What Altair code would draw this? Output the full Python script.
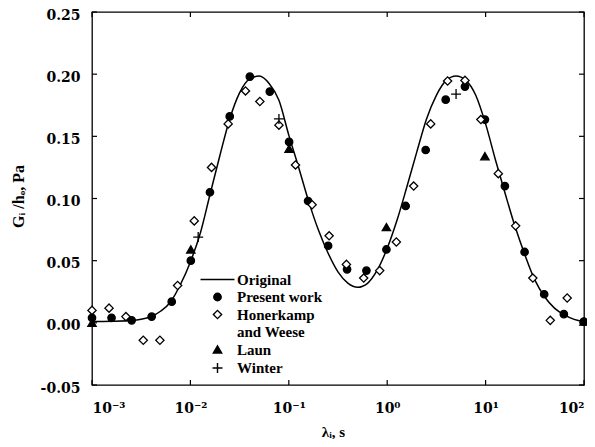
import altair as alt
import pandas as pd

# ---- data ----
present_lam = [0.001, 0.00158, 0.00253, 0.00404, 0.00646, 0.0101, 0.0158, 0.0251, 0.0402, 0.0641,
               0.1007, 0.157, 0.251, 0.391, 0.615, 0.982, 1.54, 2.46, 3.93, 6.17,
               9.84, 15.7, 24.9, 39.4, 62.4, 99.5]
present_g = [0.004, 0.004, 0.002, 0.005, 0.017, 0.050, 0.105, 0.166, 0.198, 0.186,
             0.1455, 0.098, 0.062, 0.043, 0.042, 0.059, 0.094, 0.139, 0.1795, 0.190,
             0.1635, 0.110, 0.057, 0.023, 0.007, 0.001]

honer_lam = [0.001, 0.00149, 0.00221, 0.00332, 0.0049, 0.00741, 0.01094, 0.0164, 0.0242, 0.0363,
             0.0508, 0.0794, 0.117, 0.1726, 0.257, 0.385, 0.577, 0.839, 1.239, 1.858,
             2.767, 4.11, 6.17, 8.95, 13.46, 20.18, 30.2, 45.4, 67.5]
honer_g = [0.010, 0.0118, 0.005, -0.014, -0.014, 0.030, 0.082, 0.125, 0.160, 0.1865,
           0.178, 0.159, 0.127, 0.095, 0.070, 0.047, 0.036, 0.042, 0.065, 0.110,
           0.160, 0.1945, 0.195, 0.1635, 0.120, 0.078, 0.036, 0.002, 0.020]

laun_lam = [0.001, 0.0101, 0.1007, 0.982, 9.84, 100.0]
laun_g = [0.0, 0.059, 0.140, 0.077, 0.134, 0.001]

winter_lam = [0.0120, 0.0794, 5.01]
winter_g = [0.069, 0.164, 0.184]

curve_lam = [0.001, 0.00158, 0.00251, 0.00316, 0.00398, 0.00501, 0.00631, 0.00794, 0.01, 0.0126,
             0.0158, 0.02, 0.0251, 0.0316, 0.0398, 0.0501, 0.0631, 0.0794, 0.1, 0.126,
             0.158, 0.2, 0.251, 0.316, 0.398, 0.501, 0.631, 0.794, 1.0, 1.26,
             1.58, 2.0, 2.51, 3.16, 3.98, 5.01, 6.31, 7.94, 10.0, 12.6,
             15.8, 20.0, 25.1, 31.6, 39.8, 50.1, 63.1, 79.4, 100.0]
curve_g = [0.001, 0.0012, 0.0018, 0.0028, 0.0050, 0.0095, 0.017, 0.031, 0.049, 0.072,
           0.103, 0.135, 0.164, 0.185, 0.196, 0.1985, 0.1925, 0.179, 0.151, 0.125,
           0.0985, 0.0746, 0.056, 0.041, 0.032, 0.0286, 0.0318, 0.0425, 0.060, 0.0827,
           0.109, 0.1375, 0.164, 0.183, 0.195, 0.1985, 0.195, 0.183, 0.160, 0.131,
           0.104, 0.077, 0.0546, 0.0345, 0.021, 0.0118, 0.0064, 0.0028, 0.001]

# legend entries; "Honerkamp and Weese" is shown on two legend lines
series_names = ["Original", "Present work", "Honerkamp and Weese", "(and Weese)", "Laun", "Winter"]
x_ticks = [0.001, 0.01, 0.1, 1, 10, 100]
y_ticks = [-0.05, 0.0, 0.05, 0.10, 0.15, 0.20, 0.25]

W, H = 492, 373

points = pd.concat([
    pd.DataFrame({"lam": present_lam, "g": present_g, "series": "Present work"}),
    pd.DataFrame({"lam": honer_lam, "g": honer_g, "series": "Honerkamp and Weese"}),
    pd.DataFrame({"lam": laun_lam, "g": laun_g, "series": "Laun"}),
    pd.DataFrame({"lam": winter_lam, "g": winter_g, "series": "Winter"}),
])
curve = pd.DataFrame({"lam": curve_lam, "g": curve_g})
xt = pd.DataFrame({"lam": x_ticks})
yt = pd.DataFrame({"g": y_ticks})

xscale = alt.Scale(type="log", domain=[0.001, 100], nice=False)
yscale = alt.Scale(domain=[-0.05, 0.25], nice=False, zero=False)

xaxis = alt.Axis(
    values=x_ticks,
    labelExpr="datum.value == 0.001 ? '10⁻³' : datum.value == 0.01 ? '10⁻²' : datum.value == 0.1 ? '10⁻¹' : datum.value == 1 ? '10⁰' : datum.value == 10 ? '10¹' : '10²'",
    title="λᵢ,  s", titleX=241, titleY=46, titleBaseline="middle", titleAlign="center",
    labelPadding=16, labelFontSize=14, ticks=False, domain=False, grid=False,
)
yaxis = alt.Axis(
    values=y_ticks, format=".2f",
    labelExpr="replace(datum.label, '−', '-')",
    title="Gᵢ  /hₒ,  Pa", titleX=-74, titleY=184, titleAlign="center", titleBaseline="middle",
    titleFontSize=16,
    labelPadding=12, labelOffset=3, ticks=False, domain=False, grid=False,
)

X = alt.X("lam:Q", scale=xscale, axis=xaxis)
Y = alt.Y("g:Q", scale=yscale, axis=yaxis)

line = alt.Chart(curve).mark_line(color="black", strokeWidth=1.5, interpolate="monotone").encode(
    x=X, y=Y,
)

legend = alt.Legend(
    title=None, orient="none", legendX=118, legendY=260,
    labelFont="Liberation Serif", labelFontSize=15, labelFontWeight="bold", labelColor="black",
    labelExpr="datum.label == 'Honerkamp and Weese' ? 'Honerkamp' : datum.label == '(and Weese)' ? 'and Weese' : datum.label",
    labelOffset=12, rowPadding=1.5, symbolStrokeWidth=1.4,
)

pts = alt.Chart(points).mark_point(opacity=1, strokeWidth=1.3).encode(
    x=X, y=Y,
    shape=alt.Shape("series:N", scale=alt.Scale(domain=series_names,
        range=["M-3,0H3", "circle", "diamond", "M0,0", "triangle-up", "M-1,0H1M0,-1V1"]), legend=legend),
    fill=alt.Fill("series:N", scale=alt.Scale(domain=series_names,
        range=["transparent", "black", "white", "transparent", "black", "transparent"]), legend=legend),
    stroke=alt.Stroke("series:N", scale=alt.Scale(domain=series_names,
        range=["black", "black", "black", "transparent", "black", "black"]), legend=legend),
    size=alt.Size("series:N", scale=alt.Scale(type="ordinal", domain=series_names,
        range=[128, 55, 68, 10, 70, 100]), legend=legend),
)

tl = alt.Chart(yt).mark_rule(color="black", strokeWidth=1.2).encode(
    y=Y, x=alt.value(0), x2=alt.value(5))
tr = alt.Chart(yt).mark_rule(color="black", strokeWidth=1.2).encode(
    y=Y, x=alt.value(W - 5), x2=alt.value(W))
tb = alt.Chart(xt).mark_rule(color="black", strokeWidth=1.2).encode(
    x=X, y=alt.value(H), y2=alt.value(H - 5))
tt = alt.Chart(xt).mark_rule(color="black", strokeWidth=1.2).encode(
    x=X, y=alt.value(0), y2=alt.value(5))

chart = alt.layer(line, pts, tl, tr, tb, tt).properties(
    width=W, height=H,
    autosize=alt.AutoSizeParams(type="none"),
    padding={"left": 84, "top": 4, "right": 3, "bottom": 54},
    background="white",
).configure_view(stroke="black", strokeWidth=1.3).configure_axis(
    labelFont="DejaVu Serif", labelFontSize=14, labelFontWeight="bold", labelColor="black",
    titleFont="Liberation Serif", titleFontSize=15, titleFontWeight="bold", titleColor="black",
)

chart.save("out.html", embed_options={"renderer": "svg", "actions": False})
